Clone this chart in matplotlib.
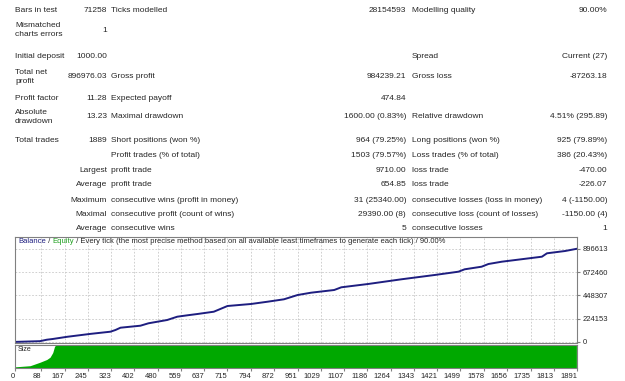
import numpy as np
import matplotlib.pyplot as plt

W, H = 625, 381

# report table: label / value / label / value / label / value
row_y = [11, 30, 57, 77, 98, 117, 141, 156, 170, 185, 200, 214, 229]
rows = [
    ("Bars in test", "71258", "Ticks modelled", "28154593", "Modelling quality", "90.00%"),
    ("Mismatched\ncharts errors", "1", "", "", "", ""),
    ("Initial deposit", "1000.00", "", "", "Spread", "Current (27)"),
    ("Total net\nprofit", "896976.03", "Gross profit", "984239.21", "Gross loss", "-87263.18"),
    ("Profit factor", "11.28", "Expected payoff", "474.84", "", ""),
    ("Absolute\ndrawdown", "13.23", "Maximal drawdown", "1600.00 (0.83%)", "Relative drawdown", "4.51% (295.89)"),
    ("Total trades", "1889", "Short positions (won %)", "964 (79.25%)", "Long positions (won %)", "925 (79.89%)"),
    ("", "", "Profit trades (% of total)", "1503 (79.57%)", "Loss trades (% of total)", "386 (20.43%)"),
    ("", "Largest", "profit trade", "9710.00", "loss trade", "-470.00"),
    ("", "Average", "profit trade", "654.85", "loss trade", "-226.07"),
    ("", "Maximum", "consecutive wins (profit in money)", "31 (25340.00)", "consecutive losses (loss in money)", "4 (-1150.00)"),
    ("", "Maximal", "consecutive profit (count of wins)", "29390.00 (8)", "consecutive loss (count of losses)", "-1150.00 (4)"),
    ("", "Average", "consecutive wins", "5", "consecutive losses", "1"),
]

# balance curve (trade number, balance)
bal_trades = [0, 84, 107, 127, 175, 253, 321, 338, 355, 422, 449, 512, 546, 580, 614, 669,
              715, 794, 850, 905, 951, 996, 1074, 1098, 1188, 1300, 1412, 1492, 1513,
              1570, 1593, 1638, 1773, 1790, 1851, 1889]
bal_values = [1000, 8000, 22000, 29000, 50000, 78000, 99300, 115700, 137900, 157100, 180300,
              212100, 243900, 257400, 270000, 292100, 347100, 366400, 388500, 411700,
              453100, 475300, 501300, 527400, 559200, 604500, 646000, 677800, 700900,
              726000, 752000, 774200, 822400, 855200, 877300, 897976]

# lot size
size_trades = [0, 51, 84, 107, 118, 127, 133, 137, 1889]
size_lots = [1, 2, 5, 7.4, 9.4, 13.4, 18.7, 20, 20]

x_ticks = [0, 88, 167, 245, 323, 402, 480, 559, 637, 715, 794, 872, 951, 1029,
           1107, 1186, 1264, 1343, 1421, 1499, 1578, 1656, 1735, 1813, 1891]
y_ticks = [0, 224153, 448307, 672460, 896613]

plt.rcParams['font.family'] = ['Liberation Sans', 'DejaVu Sans']
fig = plt.figure(figsize=(W / 100, H / 100), dpi=100)

def fx(x):
    return x / W

def fy(y):
    return 1 - y / H

txt = '#262626'
col_x = [15, 107, 111, 406, 412, 607]
col_ha = ['left', 'right', 'left', 'right', 'left', 'right']
for y, row in zip(row_y, rows):
    for x, ha, s in zip(col_x, col_ha, row):
        if s:
            fig.text(fx(x), fy(y), s, ha=ha, va='center', fontsize=6,
                     color=txt, linespacing=1.35)

# balance chart
ax = fig.add_axes([fx(15), fy(343), fx(577) - fx(15), fy(237) - fy(343)])
ax.plot(bal_trades, bal_values, color='#1e1e80', lw=1.4)
ax.set_xlim(0, 1891)
ax.set_ylim(-9641, 1012300)
ax.set_xticks(x_ticks)
ax.set_xticklabels([])
ax.tick_params(axis='x', length=0)
ax.yaxis.tick_right()
ax.set_yticks(y_ticks)
ax.set_yticklabels([str(v) for v in y_ticks])
ax.tick_params(axis='y', labelsize=5.5, length=2, pad=2, colors='#808080', labelcolor=txt)
ax.grid(True, color='#c8c8c8', ls=(0, (2, 2)), lw=0.6)
for sp in ax.spines.values():
    sp.set_color('#808080')
    sp.set_linewidth(0.8)

t1 = ax.text(0.006, 0.955, "Balance", transform=ax.transAxes, fontsize=5.5,
             color='#1e1e80', va='center')
t2 = ax.annotate(" / ", xy=(1, 0), xycoords=t1, va='bottom', fontsize=5.5, color=txt)
t3 = ax.annotate("Equity", xy=(1, 0), xycoords=t2, va='bottom', fontsize=5.5, color='#20a020')
ax.annotate(" / Every tick (the most precise method based on all available least "
            "timeframes to generate each tick) / 90.00%", xy=(1, 0), xycoords=t3,
            va='bottom', fontsize=5.5, color=txt)

# size panel
axs = fig.add_axes([fx(15), fy(368), fx(577) - fx(15), fy(345) - fy(368)])
axs.fill_between(size_trades, size_lots, color='#00a800', lw=0)
axs.set_xlim(0, 1891)
axs.set_ylim(0, 20)
axs.set_yticks([])
axs.set_xticks(x_ticks)
axs.set_xticklabels([str(v) for v in x_ticks], ha='right')
axs.tick_params(axis='x', labelsize=5.5, length=2, pad=1.5, colors='#808080', labelcolor=txt)
for sp in axs.spines.values():
    sp.set_color('#808080')
    sp.set_linewidth(0.8)
axs.text(0.004, 0.8, "Size", transform=axs.transAxes, fontsize=5, color=txt, va='center')

fig.savefig('out.png', dpi=100)
